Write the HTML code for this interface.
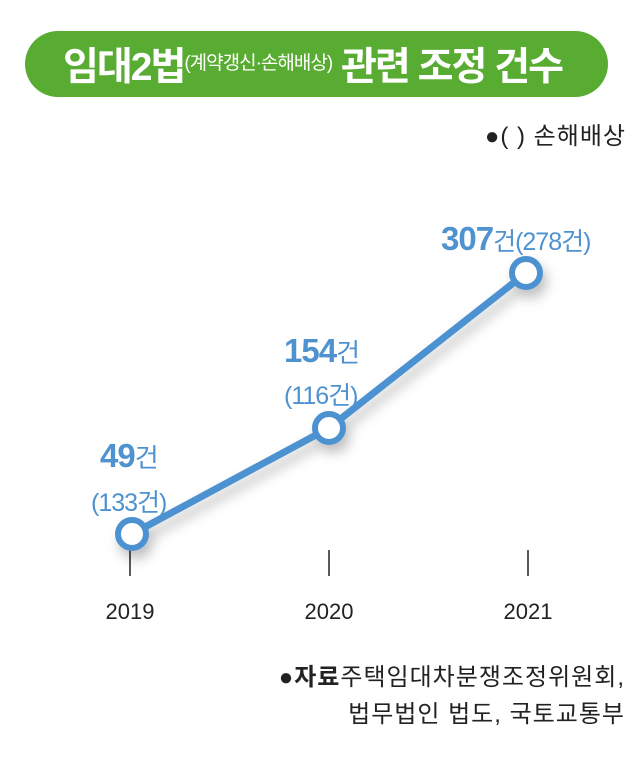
<!DOCTYPE html>
<html><head><meta charset="utf-8"><style>
body{margin:0;width:640px;height:761px;background:#fff;position:relative;overflow:hidden;font-family:"Liberation Sans","Noto Sans CJK KR",sans-serif}
.t{position:absolute;white-space:nowrap}
</style></head><body>
<div style="position:absolute;left:25px;top:31px;width:583px;height:66px;border-radius:33px;background:#58ac31"></div>
<div class="t" style="left:63px;top:39px;color:#fff;font-weight:bold;font-size:39px;line-height:50px;letter-spacing:-2px">임대2법<span style="font-size:19px;font-weight:normal;vertical-align:11px;letter-spacing:-1px">(계약갱신·손해배상)</span> 관련 조정 건수</div>
<div class="t" style="right:14px;top:116px;font-size:24px;color:#222;letter-spacing:1px">●( ) 손해배상</div>
<svg width="640" height="761" style="position:absolute;left:0;top:0">
<defs><filter id="s" x="-20%" y="-20%" width="140%" height="140%"><feDropShadow dx="4" dy="8" stdDeviation="6" flood-color="#000" flood-opacity="0.25"/></filter></defs>
<g stroke="#222" stroke-width="1.5"><line x1="130" y1="550" x2="130" y2="576"/><line x1="329" y1="550" x2="329" y2="576"/><line x1="528" y1="550" x2="528" y2="576"/></g>
<g filter="url(#s)">
<polyline points="132,534 329,428 526,273" fill="none" stroke="#4e92d0" stroke-width="7"/>
<g fill="#fff" stroke="#4e92d0" stroke-width="6"><circle cx="132" cy="534" r="14"/><circle cx="329" cy="428" r="14"/><circle cx="526" cy="273" r="14"/></g>
</g>
<g font-family="Liberation Sans, Noto Sans CJK KR, sans-serif" fill="#222" font-size="22" text-anchor="middle"><text x="130" y="619">2019</text><text x="329" y="619">2020</text><text x="528" y="619">2021</text></g>
<g font-family="Liberation Sans, Noto Sans CJK KR, sans-serif" fill="#4e92d0" letter-spacing="-1">
<text x="100" y="467" font-size="33" font-weight="bold">49<tspan font-size="26" font-weight="normal">건</tspan></text>
<text x="91" y="511" font-size="25">(133건)</text>
<text x="284" y="362" font-size="33" font-weight="bold">154<tspan font-size="26" font-weight="normal">건</tspan></text>
<text x="284" y="404" font-size="25">(116건)</text>
<text x="441" y="250" font-size="33" font-weight="bold">307<tspan font-size="25" font-weight="normal">건(278건)</tspan></text>
</g>
</svg>
<div class="t" style="right:15px;top:657px;font-size:24px;color:#222;letter-spacing:1px">●<b>자료</b>주택임대차분쟁조정위원회,</div>
<div class="t" style="right:15px;top:694px;font-size:24px;color:#222;letter-spacing:1px">법무법인 법도, 국토교통부</div>
</body></html>
